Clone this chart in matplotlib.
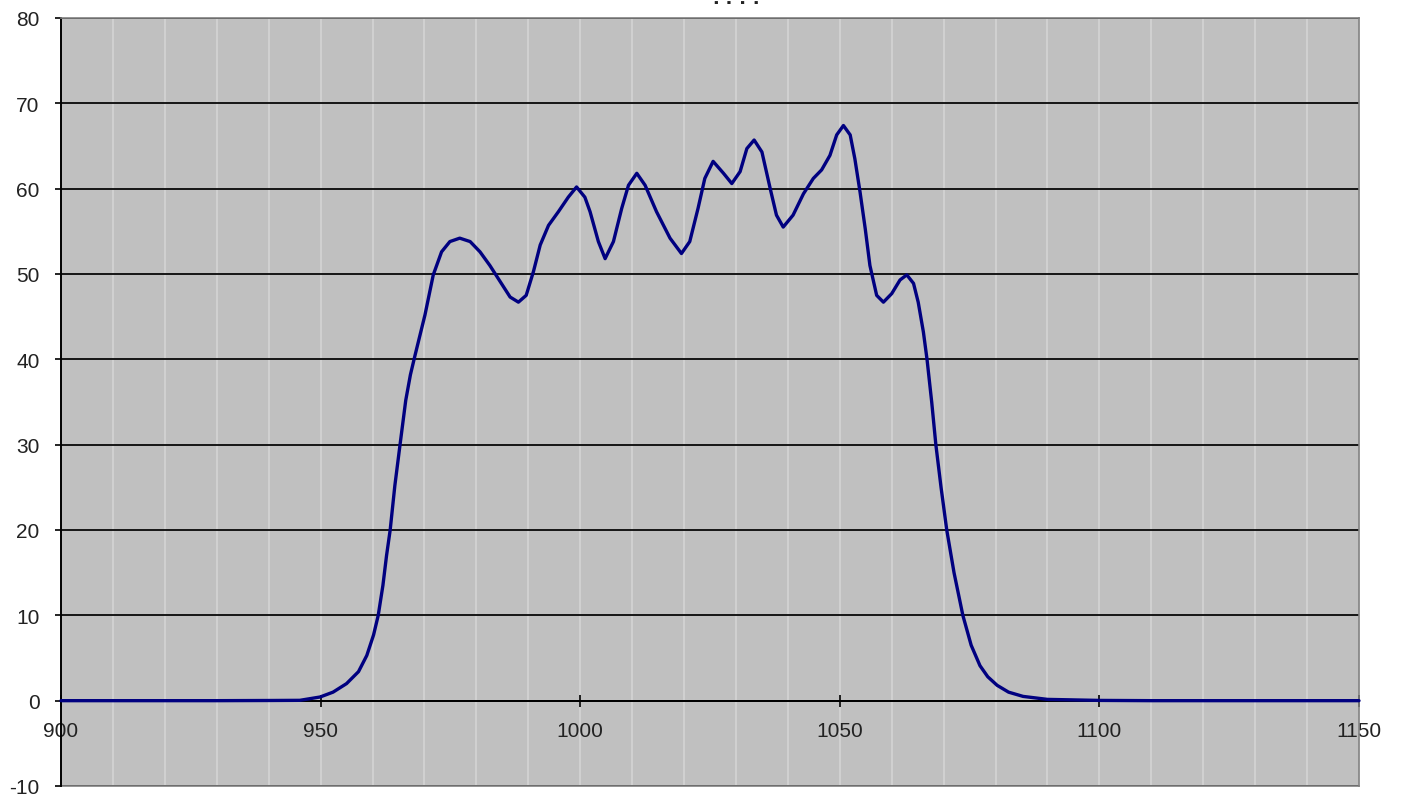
import matplotlib
matplotlib.use("Agg")
import matplotlib.pyplot as plt
from matplotlib.ticker import MultipleLocator
from matplotlib.patches import Rectangle

plt.rcParams['font.family'] = ['Liberation Sans', 'DejaVu Sans']
plt.rcParams['axes.unicode_minus'] = False

title = "????"

wavelength = [900, 910, 920, 930, 940, 946.0, 949.9, 952.4, 955.0, 957.3, 958.9,
              960.2, 961.1, 962.0, 962.7, 963.4, 964.3, 965.3, 966.4, 967.3, 968.2,
              970.1, 971.7, 973.3, 974.9, 976.8, 978.8, 980.7, 982.6, 984.6, 986.5,
              988.1, 989.6, 991.0, 992.3, 993.9, 995.8, 997.7, 999.3, 1000.9, 1001.9,
              1003.5, 1004.8, 1006.4, 1008.0, 1009.3, 1010.9, 1012.5, 1014.7, 1017.3,
              1019.5, 1021.1, 1022.7, 1024.0, 1025.6, 1027.6, 1029.2, 1030.8, 1032.1,
              1033.5, 1035.0, 1036.6, 1037.8, 1039.1, 1041.0, 1043.0, 1044.9, 1046.5,
              1048.1, 1049.4, 1050.7, 1052.0, 1052.9, 1053.9, 1054.9, 1055.8, 1057.1,
              1058.4, 1060.0, 1061.6, 1062.9, 1064.2, 1065.1, 1066.1, 1066.8, 1067.7,
              1068.5, 1069.5, 1070.6, 1072.0, 1073.7, 1075.3, 1077.0, 1078.5, 1080.3,
              1082.5, 1085.3, 1090, 1100, 1110, 1120, 1130, 1140, 1150]
intensity = [0, 0, 0, 0, 0.02, 0.04, 0.43, 1.0, 2.0, 3.4, 5.3,
             7.7, 10.0, 13.5, 17.0, 20.0, 25.2, 30.0, 35.2, 38.2, 40.5,
             45.2, 49.9, 52.6, 53.8, 54.2, 53.8, 52.6, 51.0, 49.1, 47.3,
             46.7, 47.5, 50.3, 53.4, 55.7, 57.3, 59.0, 60.2, 59.0, 57.3,
             53.8, 51.8, 53.8, 57.7, 60.4, 61.8, 60.4, 57.3, 54.2,
             52.4, 53.8, 57.7, 61.2, 63.2, 61.8, 60.6, 62.0, 64.7,
             65.7, 64.3, 60.0, 56.9, 55.5, 56.9, 59.4, 61.2, 62.2,
             63.9, 66.3, 67.4, 66.3, 63.5, 59.6, 55.3, 51.0, 47.5,
             46.7, 47.7, 49.3, 49.9, 48.9, 46.7, 43.2, 40.0, 35.0,
             30.0, 25.0, 20.0, 15.0, 10.0, 6.5, 4.1, 2.8, 1.8,
             1.0, 0.5, 0.15, 0.03, 0, 0, 0, 0, 0]

x_ticks = [900, 950, 1000, 1050, 1100, 1150]
y_ticks = [-10, 0, 10, 20, 30, 40, 50, 60, 70, 80]

W, H = 1403, 803
fig = plt.figure(figsize=(W / 100, H / 100), dpi=100)
fig.patch.set_facecolor('white')
ax = fig.add_axes([61 / W, (H - 787) / H, (1359 - 61) / W, (787 - 19) / H])
ax.set_facecolor('#c0c0c0')

ax.set_xlim(900, 1150)
ax.set_ylim(-10, 80)

# grids
ax.xaxis.set_minor_locator(MultipleLocator(10))
ax.set_xticks(x_ticks)
ax.set_yticks(y_ticks)
ax.grid(True, axis='x', which='both', color='#d2d2d2', lw=1.3, zorder=0)
ax.grid(True, axis='y', which='major', color='#151515', lw=1.4, zorder=0)
ax.set_axisbelow(True)

ax.plot(wavelength, intensity, color='#000080', lw=2.4, solid_joinstyle='round',
        solid_capstyle='round', zorder=3, clip_on=False)

# spines
for s in ['top', 'right']:
    ax.spines[s].set_color('#808080')
    ax.spines[s].set_linewidth(1.2)
ax.spines['left'].set_color('black')
ax.spines['left'].set_linewidth(1.4)
ax.spines['bottom'].set_position(('data', 0))
ax.spines['bottom'].set_color('black')
ax.spines['bottom'].set_linewidth(1.4)
ax.plot([0, 1], [0, 0], transform=ax.transAxes, color='#808080', lw=1.2,
        clip_on=False, zorder=1)

ax.tick_params(axis='y', which='major', direction='out', length=4.5, width=1.2,
               color='black', labelsize=15, pad=11, labelcolor='#222222')
ax.tick_params(axis='x', which='major', direction='inout', length=9, width=1.2,
               color='black', labelsize=15, pad=10, labelcolor='#222222')
ax.tick_params(axis='x', which='minor', length=0)

fig.text(737 / W, 1 - 4 / H, title, ha='center', va='baseline', fontsize=16,
         fontweight='bold', color='#222222')

fig.savefig('out.png', dpi=100, facecolor='white')
